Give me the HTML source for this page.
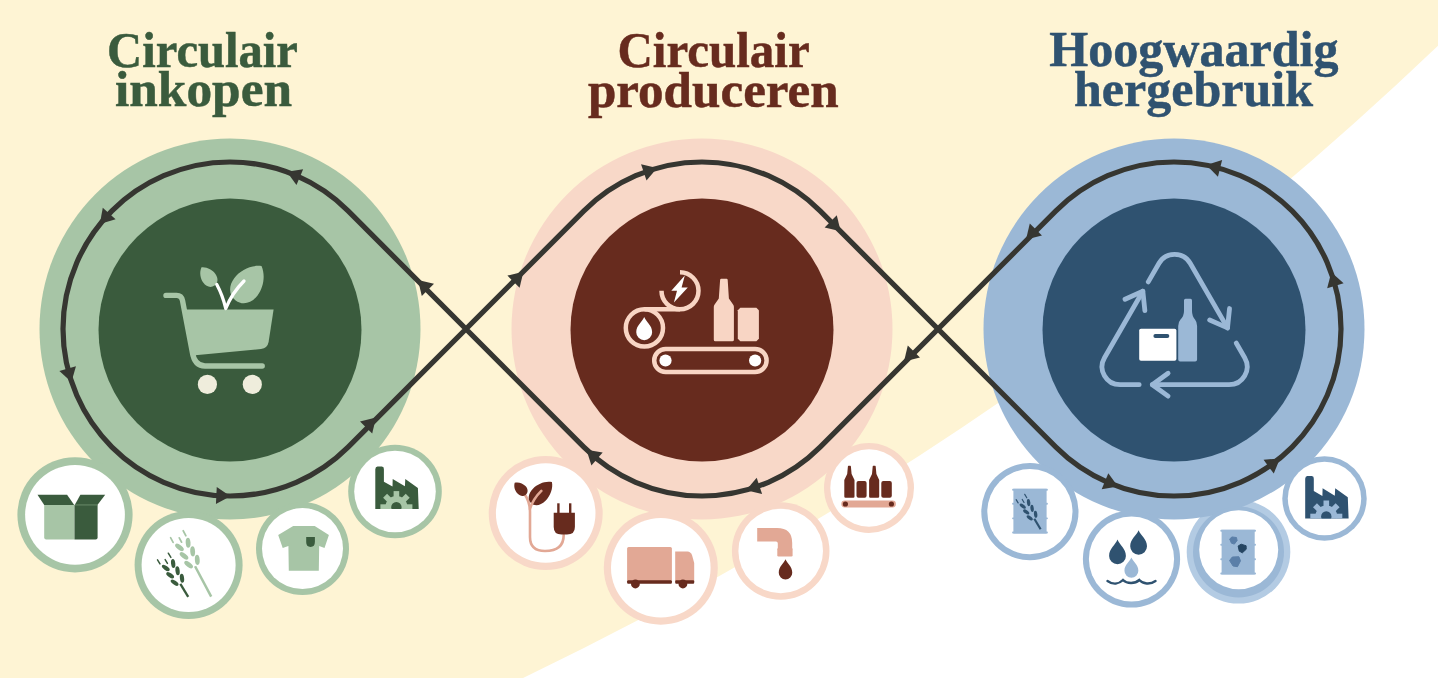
<!DOCTYPE html>
<html><head><meta charset="utf-8"><style>
html,body{margin:0;padding:0;background:#fff;}
svg{display:block;}
</style></head><body>
<svg width="1438" height="678" viewBox="0 0 1438 678">
<rect width="1438" height="678" fill="#FFFFFF"/>
<path d="M0,0 H1438 V45.83 A3546.7,3546.7 0 0 1 523.09,678 H0 Z" fill="#FEF4D4"/>
<circle cx="1238.5" cy="551.8" r="51.8" fill="#B3CBE3"/>
<circle cx="230" cy="329" r="190.5" fill="#A7C5A6"/>
<circle cx="230" cy="330" r="131.5" fill="#3A5B3D"/>
<circle cx="702" cy="329" r="190.5" fill="#F8D8C8"/>
<circle cx="702" cy="330" r="131.5" fill="#672B1E"/>
<circle cx="1174" cy="329" r="190.5" fill="#9BB8D6"/>
<circle cx="1174" cy="330" r="131.5" fill="#2F5270"/>
<circle cx="75" cy="514.8" r="57.6" fill="#A7C5A6"/>
<circle cx="75" cy="514.8" r="49.9" fill="#FFFFFF"/>
<circle cx="188.6" cy="565" r="54" fill="#A7C5A6"/>
<circle cx="188.6" cy="565" r="47" fill="#FFFFFF"/>
<circle cx="302.5" cy="548.6" r="46.5" fill="#A7C5A6"/>
<circle cx="302.5" cy="548.6" r="40.5" fill="#FFFFFF"/>
<circle cx="395" cy="491.5" r="46.8" fill="#A7C5A6"/>
<circle cx="395" cy="491.5" r="40.8" fill="#FFFFFF"/>
<circle cx="545.7" cy="513" r="57" fill="#F8D8C8"/>
<circle cx="545.7" cy="513" r="49.8" fill="#FFFFFF"/>
<circle cx="660.8" cy="567.7" r="57" fill="#F8D8C8"/>
<circle cx="660.8" cy="567.7" r="49.8" fill="#FFFFFF"/>
<circle cx="780.7" cy="551" r="48.8" fill="#F8D8C8"/>
<circle cx="780.7" cy="551" r="42.3" fill="#FFFFFF"/>
<circle cx="869" cy="488" r="45" fill="#F8D8C8"/>
<circle cx="869" cy="488" r="38.7" fill="#FFFFFF"/>
<circle cx="1029.9" cy="511.7" r="48.6" fill="#9BB8D6"/>
<circle cx="1029.9" cy="511.7" r="42.6" fill="#FFFFFF"/>
<circle cx="1131.5" cy="559" r="48.6" fill="#9BB8D6"/>
<circle cx="1131.5" cy="559" r="42.6" fill="#FFFFFF"/>
<circle cx="1324.5" cy="498.5" r="42.2" fill="#9BB8D6"/>
<circle cx="1324.5" cy="498.5" r="36.7" fill="#FFFFFF"/>
<circle cx="1238.5" cy="552" r="45.5" fill="#9BB8D6"/>
<circle cx="1238.7" cy="549.8" r="39.5" fill="#FFFFFF"/>
<path d="M348.09,210.91 A167,167 0 1 0 348.09,447.09 L583.91,210.91 A167,167 0 0 1 820.09,210.91 L1055.91,447.09 A167,167 0 1 0 1055.91,210.91 L820.09,447.09 A167,167 0 0 1 583.91,447.09 Z" fill="none" stroke="#363631" stroke-width="5.2"/>
<path d="M-5.5,-8.6 L8.5,0 L-5.5,8.6Z" fill="#363631" transform="translate(294.72,175.05) rotate(-157.2)"/>
<path d="M-5.5,-8.6 L8.5,0 L-5.5,8.6Z" fill="#363631" transform="translate(105.51,217.69) rotate(-228.2)"/>
<path d="M-5.5,-8.6 L8.5,0 L-5.5,8.6Z" fill="#363631" transform="translate(69.15,373.91) rotate(74.4)"/>
<path d="M-5.5,-8.6 L8.5,0 L-5.5,8.6Z" fill="#363631" transform="translate(221.84,495.80) rotate(2.8)"/>
<path d="M-5.5,-8.6 L8.5,0 L-5.5,8.6Z" fill="#363631" transform="translate(370.00,423.60) rotate(-45.0)"/>
<path d="M-5.5,-8.6 L8.5,0 L-5.5,8.6Z" fill="#363631" transform="translate(424.00,286.00) rotate(-135.0)"/>
<path d="M-5.5,-8.6 L8.5,0 L-5.5,8.6Z" fill="#363631" transform="translate(517.40,277.80) rotate(-45.0)"/>
<path d="M-5.5,-8.6 L8.5,0 L-5.5,8.6Z" fill="#363631" transform="translate(649.01,170.63) rotate(-18.5)"/>
<path d="M-5.5,-8.6 L8.5,0 L-5.5,8.6Z" fill="#363631" transform="translate(834.60,225.30) rotate(45.0)"/>
<path d="M-5.5,-8.6 L8.5,0 L-5.5,8.6Z" fill="#363631" transform="translate(910.00,355.40) rotate(135.0)"/>
<path d="M-5.5,-8.6 L8.5,0 L-5.5,8.6Z" fill="#363631" transform="translate(754.16,487.65) rotate(161.8)"/>
<path d="M-5.5,-8.6 L8.5,0 L-5.5,8.6Z" fill="#363631" transform="translate(592.88,455.42) rotate(220.8)"/>
<path d="M-5.5,-8.6 L8.5,0 L-5.5,8.6Z" fill="#363631" transform="translate(1214.68,167.03) rotate(-165.9)"/>
<path d="M-5.5,-8.6 L8.5,0 L-5.5,8.6Z" fill="#363631" transform="translate(1333.79,280.45) rotate(-106.9)"/>
<path d="M-5.5,-8.6 L8.5,0 L-5.5,8.6Z" fill="#363631" transform="translate(1273.10,463.42) rotate(-36.4)"/>
<path d="M-5.5,-8.6 L8.5,0 L-5.5,8.6Z" fill="#363631" transform="translate(1110.09,483.29) rotate(22.5)"/>
<path d="M-5.5,-8.6 L8.5,0 L-5.5,8.6Z" fill="#363631" transform="translate(1032.00,233.40) rotate(135.0)"/>
<path d="M166,295.4 H176.5 Q181.5,295.4 182.5,300.5 L192.3,352 Q194.5,366 205,366 H262.2" fill="none" stroke="#A7C5A6" stroke-width="5.4" stroke-linecap="round" stroke-linejoin="round"/>
<path d="M184.5,309.6 H273.6 L268.6,342 Q267.6,348 261,349 L192.5,355.5 Z" fill="#A7C5A6"/>
<circle cx="207.4" cy="384.4" r="9.6" fill="#EFEDDC"/><circle cx="252.3" cy="384.4" r="9.6" fill="#EFEDDC"/>
<path d="M0,0 C4.8,2.69 7.5,8.51 7.5,13.44 C7.5,19.04 4.2,22.4 0,22.4 C-4.2,22.4 -7.5,19.04 -7.5,13.44 C-7.5,8.51 -4.8,2.69 0,0Z" fill="#A7C5A6" transform="translate(201.5,267.3) rotate(-35.5)"/>
<path d="M0,0 C9.28,5.16 14.5,16.34 14.5,25.8 C14.5,36.55 8.12,43 0,43 C-8.12,43 -14.5,36.55 -14.5,25.8 C-14.5,16.34 -9.28,5.16 0,0Z" fill="#A7C5A6" transform="translate(261.5,266.1) rotate(37)"/>
<path d="M216.8,284.5 Q222.5,295 225.8,308.5 Q232,293 244,281" fill="none" stroke="#FFFFFF" stroke-width="3.3" stroke-linecap="round" stroke-linejoin="round"/>
<rect x="654.2" y="349" width="112.4" height="23" rx="11.5" fill="none" stroke="#F8D5C4" stroke-width="4.5"/>
<circle cx="665.5" cy="360.5" r="6.1" fill="#FFFFFF"/><circle cx="755.1" cy="360.5" r="6.1" fill="#FFFFFF"/>
<circle cx="644.4" cy="327.9" r="18.6" fill="none" stroke="#F8D5C4" stroke-width="4.5"/>
<path d="M644.4,309.3 H680" stroke="#F8D5C4" stroke-width="4.5"/>
<path d="M680.00,272.30 A18.5,18.5 0 1 1 661.50,290.80" fill="none" stroke="#F8D5C4" stroke-width="4.5"/>
<path d="M684.8,275.6 L671.3,290.8 H677 L673.9,302.6 L687.8,287.6 H681.6 Z" fill="#FFFFFF"/>
<path d="M0,0 C1.99,5.08 7.95,8.32 7.95,15.15 A7.95,7.95 0 0 1 -7.95,15.15 C-7.95,8.32 -1.99,5.08 0,0Z" fill="#FFFFFF" transform="translate(644.2,317.1)"/>
<path d="M721.2,278.8 H726.6 Q727.6,278.8 727.7,280 L728.9,298.5 L733.4,305 Q733.9,305.8 733.9,307 V339.8 Q733.9,341.3 732.4,341.3 H715.3 Q713.8,341.3 713.8,339.8 V307 Q713.8,305.8 714.3,305 L718.8,298.5 L720.1,280 Q720.2,278.8 721.2,278.8 Z" fill="#F8D5C4"/>
<path d="M740.3,307.8 H756.4 L758.9,310.3 V338.8 L756.4,341.3 H740.3 L737.8,338.8 V310.3 Z" fill="#F8D5C4"/>
<path d="M1148.25,281.91 L1159.00,263.29 A18,18 0 0 1 1190.20,263.32 L1227.50,327.92" fill="none" stroke="#9BB8D6" stroke-width="4.8" stroke-linecap="round" stroke-linejoin="round"/>
<path d="M1236.20,342.99 L1244.70,357.71 A18,18 0 0 1 1229.10,384.70 L1152.30,384.70" fill="none" stroke="#9BB8D6" stroke-width="4.8" stroke-linecap="round" stroke-linejoin="round"/>
<path d="M1139.20,384.70 L1120.10,384.70 A18,18 0 0 1 1104.50,357.68 L1142.85,291.26" fill="none" stroke="#9BB8D6" stroke-width="4.8" stroke-linecap="round" stroke-linejoin="round"/>
<path d="M1209.69,319.99 L1227.50,327.92 L1229.54,308.53" fill="none" stroke="#9BB8D6" stroke-width="4.8" stroke-linecap="round" stroke-linejoin="round"/>
<path d="M1168.08,373.24 L1152.30,384.70 L1168.08,396.16" fill="none" stroke="#9BB8D6" stroke-width="4.8" stroke-linecap="round" stroke-linejoin="round"/>
<path d="M1144.89,310.65 L1142.85,291.26 L1125.04,299.19" fill="none" stroke="#9BB8D6" stroke-width="4.8" stroke-linecap="round" stroke-linejoin="round"/>
<rect x="1139.2" y="328.8" width="37.2" height="31.9" rx="1.8" fill="#FFFFFF"/>
<rect x="1153.4" y="333.9" width="15.9" height="4" rx="2" fill="#2F5270"/>
<path d="M1185.5,298.8 H1190.5 Q1192,298.8 1192,300.5 V311 Q1192,316 1195,319.5 Q1197.1,322 1197.1,326 V359.5 Q1197.1,361.5 1195.1,361.5 H1180.2 Q1178.2,361.5 1178.2,359.5 V326 Q1178.2,322 1180.5,319.5 Q1184,316 1184,311 V300.5 Q1184,298.8 1185.5,298.8 Z" fill="#9BB8D6"/>
<path d="M37.5,494.7 H67.1 L74.2,504.9 H44.2 Z" fill="#3A5B3D"/>
<path d="M80.4,494.7 H105.2 L97.4,504.9 H74.7 Z" fill="#3A5B3D"/>
<path d="M44.2,504.9 H74.5 V539.4 H46.2 Q44.2,539.4 44.2,537.4 Z" fill="#A7C5A6"/>
<path d="M74.5,504.9 H97.6 V537.4 Q97.6,539.4 95.6,539.4 H74.5 Z" fill="#3A5B3D"/>
<rect x="74.9" y="504.5" width="22.5" height="0.9" fill="#6E8F6F"/>
<g transform="translate(211.2,596.6) rotate(-28)"><line x1="0" y1="0" x2="0" y2="-34.4" stroke="#A7C5A6" stroke-width="2.5"/><ellipse cx="0" cy="0" rx="2.4" ry="5.1" fill="#A7C5A6" transform="translate(4.9,-38.9) rotate(24)"/><ellipse cx="0" cy="0" rx="2.4" ry="5.1" fill="#A7C5A6" transform="translate(-4.9,-38.9) rotate(-24)"/><ellipse cx="0" cy="0" rx="2.4" ry="5.1" fill="#A7C5A6" transform="translate(4.9,-48.7) rotate(24)"/><ellipse cx="0" cy="0" rx="2.4" ry="5.1" fill="#A7C5A6" transform="translate(-4.9,-48.7) rotate(-24)"/><ellipse cx="0" cy="0" rx="2.4" ry="5.1" fill="#A7C5A6" transform="translate(4.9,-58.4) rotate(24)"/><ellipse cx="0" cy="0" rx="2.4" ry="5.1" fill="#A7C5A6" transform="translate(-4.9,-58.4) rotate(-24)"/><line x1="-8.2" y1="-65.7" x2="-8.2" y2="-71.1" stroke="#A7C5A6" stroke-width="1.7" stroke-linecap="round"/><line x1="-0.6" y1="-61.9" x2="-0.6" y2="-66.9" stroke="#A7C5A6" stroke-width="1.7" stroke-linecap="round"/><line x1="6.2" y1="-65.6" x2="6.2" y2="-71.3" stroke="#A7C5A6" stroke-width="1.7" stroke-linecap="round"/></g>
<g transform="translate(188.2,596.9) rotate(-31)"><line x1="0" y1="0" x2="0" y2="-15.26" stroke="#3A5B3D" stroke-width="2.3"/><ellipse cx="0" cy="0" rx="2.11" ry="4.49" fill="#3A5B3D" transform="translate(4.31,-19.22) rotate(24)"/><ellipse cx="0" cy="0" rx="2.11" ry="4.49" fill="#3A5B3D" transform="translate(-4.31,-19.22) rotate(-24)"/><ellipse cx="0" cy="0" rx="2.11" ry="4.49" fill="#3A5B3D" transform="translate(4.31,-27.84) rotate(24)"/><ellipse cx="0" cy="0" rx="2.11" ry="4.49" fill="#3A5B3D" transform="translate(-4.31,-27.84) rotate(-24)"/><ellipse cx="0" cy="0" rx="2.11" ry="4.49" fill="#3A5B3D" transform="translate(4.31,-36.38) rotate(24)"/><ellipse cx="0" cy="0" rx="2.11" ry="4.49" fill="#3A5B3D" transform="translate(-4.31,-36.38) rotate(-24)"/><line x1="-7.22" y1="-42.8" x2="-7.22" y2="-47.56" stroke="#3A5B3D" stroke-width="1.5" stroke-linecap="round"/><line x1="-0.53" y1="-39.46" x2="-0.53" y2="-43.86" stroke="#3A5B3D" stroke-width="1.5" stroke-linecap="round"/><line x1="5.46" y1="-42.72" x2="5.46" y2="-47.73" stroke="#3A5B3D" stroke-width="1.5" stroke-linecap="round"/></g>
<path d="M293.2,526.1 H314.7 L328.9,535 L324.5,548 L319.2,546 L318.8,570.7 H288.8 L288.4,546 L282.7,548 L278.2,535 Z" fill="#A7C5A6"/>
<path d="M306.2,536.9 H314.9 V542 Q314.9,546.9 310.5,546.9 Q306.2,546.9 306.2,542 Z" fill="#3A5B3D"/>
<clipPath id="cf1"><rect x="373.3" y="459.1" width="50" height="50"/></clipPath>
<path d="M375.3,469.3 L375.9,467.3 L377.5,466.5 L381.9,466.5 L383.5,467.3 L383.9,469.3 L383.9,481.7 L392.5,486.5 L392.7,478.9 L404.9,486.3 L405.3,478.9 L417.9,487.9 L418.7,509.1 L375.3,509.1Z" fill="#3A5B3D"/>
<g clip-path="url(#cf1)"><circle cx="396.4" cy="507.1" r="11" fill="#A7C5A6"/>
<rect x="-2.8" y="-16" width="5.6" height="6" fill="#A7C5A6" transform="translate(396.4,507.1) rotate(0)"/>
<rect x="-2.8" y="-16" width="5.6" height="6" fill="#A7C5A6" transform="translate(396.4,507.1) rotate(45)"/>
<rect x="-2.8" y="-16" width="5.6" height="6" fill="#A7C5A6" transform="translate(396.4,507.1) rotate(90)"/>
<rect x="-2.8" y="-16" width="5.6" height="6" fill="#A7C5A6" transform="translate(396.4,507.1) rotate(135)"/>
<rect x="-2.8" y="-16" width="5.6" height="6" fill="#A7C5A6" transform="translate(396.4,507.1) rotate(180)"/>
<rect x="-2.8" y="-16" width="5.6" height="6" fill="#A7C5A6" transform="translate(396.4,507.1) rotate(225)"/>
<rect x="-2.8" y="-16" width="5.6" height="6" fill="#A7C5A6" transform="translate(396.4,507.1) rotate(270)"/>
<rect x="-2.8" y="-16" width="5.6" height="6" fill="#A7C5A6" transform="translate(396.4,507.1) rotate(315)"/>
<circle cx="396.4" cy="507.1" r="5.2" fill="#3A5B3D"/></g>
<path d="M524.5,494 Q530,502 530,512 V537 Q530,551 545,551 Q563.7,551 563.7,535" fill="none" stroke="#E2A895" stroke-width="2.6" stroke-linecap="round"/>
<path d="M0,0 C3.52,1.96 5.5,6.19 5.5,9.78 C5.5,13.86 3.08,16.3 0,16.3 C-3.08,16.3 -5.5,13.86 -5.5,9.78 C-5.5,6.19 -3.52,1.96 0,0Z" fill="#672B1E" transform="translate(514.7,482.7) rotate(-43.8)"/>
<path d="M0,0 C5.6,3.55 8.75,11.25 8.75,17.76 C8.75,25.16 4.9,29.6 0,29.6 C-4.9,29.6 -8.75,25.16 -8.75,17.76 C-8.75,11.25 -5.6,3.55 0,0Z" fill="#672B1E" transform="translate(551.9,482.1) rotate(45)"/>
<path d="M530,509 Q533,499 541.3,490.9" fill="none" stroke="#E2A895" stroke-width="2.6" stroke-linecap="round"/>
<path d="M553.7,512.8 H574.9 V527 Q574.9,534.6 567,534.6 H561.6 Q553.7,534.6 553.7,527 Z" fill="#672B1E"/>
<rect x="557.2" y="503.3" width="2.4" height="10" fill="#672B1E"/><rect x="569" y="503.3" width="2.4" height="10" fill="#672B1E"/>
<rect x="627.1" y="547.1" width="44.8" height="34" rx="1.5" fill="#E2A895"/>
<path d="M675.2,551.4 H687.5 Q690.5,551.4 692,555 L694.2,563 V581 H675.2Z" fill="#E2A895"/>
<rect x="627.1" y="580.2" width="44.8" height="3.6" rx="1" fill="#672B1E"/><rect x="675.2" y="580.2" width="19" height="3.6" rx="1" fill="#672B1E"/>
<circle cx="635.4" cy="584" r="4.4" fill="#672B1E"/><circle cx="682.9" cy="584" r="4.4" fill="#672B1E"/>
<path d="M757.2,528.1 H777 Q792.2,528.1 792.2,543 V549 H777.8 V543.5 Q777.8,541.6 776,541.6 H757.2 Z" fill="#E2A895"/>
<rect x="777.3" y="548" width="15.3" height="8.4" rx="1.2" fill="#E2A895"/>
<path d="M0,0 C1.69,4.42 6.75,7.24 6.75,13.35 A6.75,6.75 0 0 1 -6.75,13.35 C-6.75,7.24 -1.69,4.42 0,0Z" fill="#672B1E" transform="translate(785.5,559.3)"/>
<path d="M848.5000000000001,465.7 H850.3 Q850.9,465.7 850.9,466.5 L851.6,474 L854.5,480 V496.5 Q854.5,497.7 853.3,497.7 H845.5 Q844.3,497.7 844.3,496.5 V480 L847.2,474 L847.9000000000001,466.5 Q847.9000000000001,465.7 848.5000000000001,465.7 Z" fill="#672B1E"/>
<path d="M873.3000000000001,465.7 H875.0999999999999 Q875.6999999999999,465.7 875.6999999999999,466.5 L876.4,474 L879.2,480 V496.5 Q879.2,497.7 878.0,497.7 H870.3000000000001 Q869.1,497.7 869.1,496.5 V480 L872,474 L872.7,466.5 Q872.7,465.7 873.3000000000001,465.7 Z" fill="#672B1E"/>
<rect x="856.5" y="480.9" width="10.1" height="16.8" rx="2" fill="#672B1E"/><rect x="881.3" y="480.9" width="10.5" height="16.8" rx="2" fill="#672B1E"/>
<rect x="841.3" y="500.6" width="54.6" height="6.9" rx="3.45" fill="#E2A895"/>
<circle cx="845.4" cy="504" r="2.6" fill="#672B1E"/><circle cx="891.4" cy="504" r="2.6" fill="#672B1E"/>
<rect x="1013.4" y="488.8" width="33.20" height="44.70" fill="#9BB8D6"/><rect x="1012.1" y="488.8" width="35.80" height="1.9" rx="0.9" fill="#9BB8D6"/><rect x="1012.1" y="531.60" width="35.80" height="1.9" rx="0.9" fill="#9BB8D6"/><rect x="1012.1" y="502.87" width="35.80" height="1.8" rx="0.9" fill="#9BB8D6"/><rect x="1012.1" y="517.40" width="35.80" height="1.8" rx="0.9" fill="#9BB8D6"/>
<g transform="translate(1040.6,529.2) rotate(-31)"><line x1="0" y1="0" x2="0" y2="-12.2" stroke="#2F5270" stroke-width="2.2"/><ellipse cx="0" cy="0" rx="1.68" ry="3.57" fill="#2F5270" transform="translate(3.43,-15.35) rotate(24)"/><ellipse cx="0" cy="0" rx="1.68" ry="3.57" fill="#2F5270" transform="translate(-3.43,-15.35) rotate(-24)"/><ellipse cx="0" cy="0" rx="1.68" ry="3.57" fill="#2F5270" transform="translate(3.43,-22.21) rotate(24)"/><ellipse cx="0" cy="0" rx="1.68" ry="3.57" fill="#2F5270" transform="translate(-3.43,-22.21) rotate(-24)"/><ellipse cx="0" cy="0" rx="1.68" ry="3.57" fill="#2F5270" transform="translate(3.43,-29) rotate(24)"/><ellipse cx="0" cy="0" rx="1.68" ry="3.57" fill="#2F5270" transform="translate(-3.43,-29) rotate(-24)"/><line x1="-5.74" y1="-34.11" x2="-5.74" y2="-37.89" stroke="#2F5270" stroke-width="1.19" stroke-linecap="round"/><line x1="-0.42" y1="-31.45" x2="-0.42" y2="-34.95" stroke="#2F5270" stroke-width="1.19" stroke-linecap="round"/><line x1="4.34" y1="-34.04" x2="4.34" y2="-38.03" stroke="#2F5270" stroke-width="1.19" stroke-linecap="round"/></g>
<path d="M0,0 C2.1,5.48 8.4,8.96 8.4,16.5 A8.4,8.4 0 0 1 -8.4,16.5 C-8.4,8.96 -2.1,5.48 0,0Z" fill="#2F5270" transform="translate(1117.5,539.4)"/>
<path d="M0,0 C2.1,5.37 8.4,8.78 8.4,16 A8.4,8.4 0 0 1 -8.4,16 C-8.4,8.78 -2.1,5.37 0,0Z" fill="#2F5270" transform="translate(1138.6,530.3)"/>
<path d="M0,0 C1.74,4.42 6.95,7.24 6.95,13.15 A6.95,6.95 0 0 1 -6.95,13.15 C-6.95,7.24 -1.74,4.42 0,0Z" fill="#9BB8D6" transform="translate(1131.4,557.6)"/>
<path d="M1107.5,581 C1113,585 1119,584 1123,580 C1127,584 1135,584 1139.3,580 C1143,584 1150,585 1155.5,581" fill="none" stroke="#2F5270" stroke-width="2.4" stroke-linecap="round"/>
<rect x="1221.6" y="529.8" width="33.10" height="44.60" fill="#9BB8D6"/><rect x="1220.3" y="529.8" width="35.70" height="1.9" rx="0.9" fill="#9BB8D6"/><rect x="1220.3" y="572.50" width="35.70" height="1.9" rx="0.9" fill="#9BB8D6"/><rect x="1220.3" y="543.84" width="35.70" height="1.8" rx="0.9" fill="#9BB8D6"/><rect x="1220.3" y="558.34" width="35.70" height="1.8" rx="0.9" fill="#9BB8D6"/>
<path d="M1237.09,540.51 L1234.33,544.11 L1231.44,543.15 L1229.70,538.96 L1231.98,536.94 L1236.47,537.52Z" fill="#5B7FA8" stroke="#5B7FA8" stroke-width="1" stroke-linejoin="round"/>
<path d="M1246.20,549.27 L1242.36,552.80 L1239.27,551.13 L1238.14,546.04 L1241.13,544.20 L1246.10,545.76Z" fill="#254562" stroke="#254562" stroke-width="1" stroke-linejoin="round"/>
<path d="M1240.50,560.85 L1237.47,566.68 L1233.09,566.03 L1229.56,560.49 L1232.31,557.02 L1238.87,556.73Z" fill="#5B7FA8" stroke="#5B7FA8" stroke-width="1" stroke-linejoin="round"/>
<clipPath id="cf2"><rect x="1303.2" y="468.5" width="50" height="50"/></clipPath>
<path d="M1305.2,478.7 L1305.8,476.7 L1307.4,475.9 L1311.8,475.9 L1313.4,476.7 L1313.8,478.7 L1313.8,491.1 L1322.4,495.9 L1322.6,488.3 L1334.8,495.7 L1335.2,488.3 L1347.8,497.3 L1348.6,518.5 L1305.2,518.5Z" fill="#2F5270"/>
<g clip-path="url(#cf2)"><circle cx="1326.3" cy="516.5" r="11" fill="#9BB8D6"/>
<rect x="-2.8" y="-16" width="5.6" height="6" fill="#9BB8D6" transform="translate(1326.3,516.5) rotate(0)"/>
<rect x="-2.8" y="-16" width="5.6" height="6" fill="#9BB8D6" transform="translate(1326.3,516.5) rotate(45)"/>
<rect x="-2.8" y="-16" width="5.6" height="6" fill="#9BB8D6" transform="translate(1326.3,516.5) rotate(90)"/>
<rect x="-2.8" y="-16" width="5.6" height="6" fill="#9BB8D6" transform="translate(1326.3,516.5) rotate(135)"/>
<rect x="-2.8" y="-16" width="5.6" height="6" fill="#9BB8D6" transform="translate(1326.3,516.5) rotate(180)"/>
<rect x="-2.8" y="-16" width="5.6" height="6" fill="#9BB8D6" transform="translate(1326.3,516.5) rotate(225)"/>
<rect x="-2.8" y="-16" width="5.6" height="6" fill="#9BB8D6" transform="translate(1326.3,516.5) rotate(270)"/>
<rect x="-2.8" y="-16" width="5.6" height="6" fill="#9BB8D6" transform="translate(1326.3,516.5) rotate(315)"/>
<circle cx="1326.3" cy="516.5" r="5.2" fill="#2F5270"/></g>
<text x="107.1" y="66.5" textLength="190.79999999999998" lengthAdjust="spacingAndGlyphs" fill="#3A5B3D" font-family="Liberation Serif" font-weight="bold" font-size="51" stroke="#3A5B3D" stroke-width="0.5">Circulair</text>
<text x="115" y="106" textLength="177" lengthAdjust="spacingAndGlyphs" fill="#3A5B3D" font-family="Liberation Serif" font-weight="bold" font-size="51" stroke="#3A5B3D" stroke-width="0.5">inkopen</text>
<text x="617.5" y="66.5" textLength="192.20000000000005" lengthAdjust="spacingAndGlyphs" fill="#672B1E" font-family="Liberation Serif" font-weight="bold" font-size="51" stroke="#672B1E" stroke-width="0.5">Circulair</text>
<text x="587.9" y="106.5" textLength="250.80000000000007" lengthAdjust="spacingAndGlyphs" fill="#672B1E" font-family="Liberation Serif" font-weight="bold" font-size="51" stroke="#672B1E" stroke-width="0.5">produceren</text>
<text x="1049.2" y="66" textLength="289.29999999999995" lengthAdjust="spacingAndGlyphs" fill="#2F5270" font-family="Liberation Serif" font-weight="bold" font-size="51" stroke="#2F5270" stroke-width="0.5">Hoogwaardig</text>
<text x="1074" y="106" textLength="239" lengthAdjust="spacingAndGlyphs" fill="#2F5270" font-family="Liberation Serif" font-weight="bold" font-size="51" stroke="#2F5270" stroke-width="0.5">hergebruik</text>
</svg>
</body></html>
